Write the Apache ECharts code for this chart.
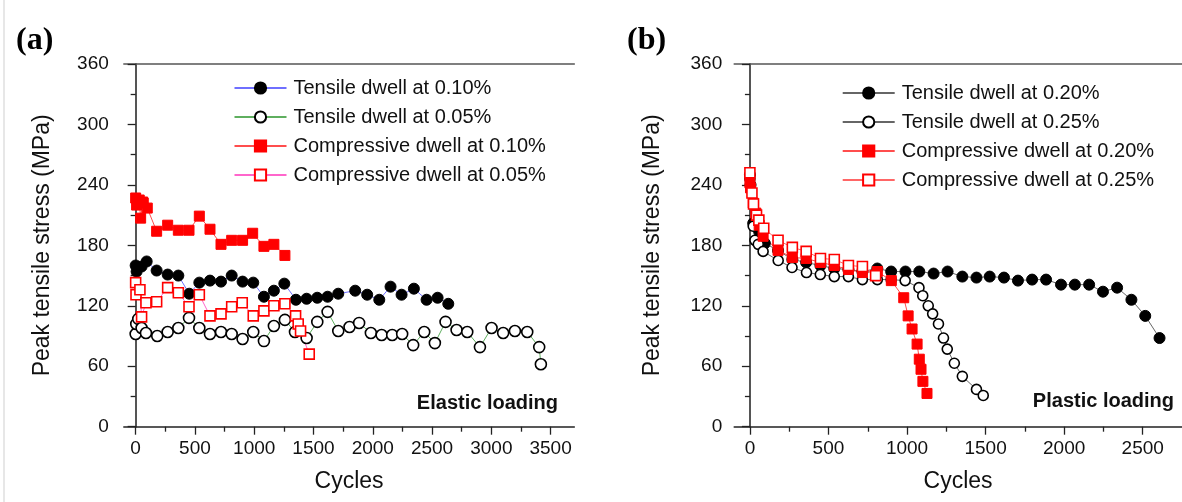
<!DOCTYPE html>
<html><head><meta charset="utf-8">
<script src="https://cdn.jsdelivr.net/npm/echarts@6/dist/echarts.min.js"></script>
<style>html,body{margin:0;padding:0;background:#fff;} #c{width:1182px;height:502px;}</style>
</head><body><div id="c"></div>
<script>
// ---------- Tick labels ----------
const xMajorA = [0, 500, 1000, 1500, 2000, 2500, 3000, 3500];
const xMinorA = [250, 750, 1250, 1750, 2250, 2750, 3250];
const xMajorB = [0, 500, 1000, 1500, 2000, 2500];
const xMinorB = [250, 750, 1250, 1750, 2250];

// ---------- Panel (a): elastic loading ----------
const aT10_x = [0, 8, 50, 93, 177, 270, 360, 452, 537, 627, 720, 810, 902, 992, 1082, 1166, 1254, 1352, 1442, 1532, 1619, 1709, 1852, 1953, 2055, 2150, 2243, 2347, 2454, 2547, 2637];
const aT10_y = [160, 154, 159, 164, 155, 151, 150, 132, 143, 145, 144, 150, 144, 143, 129, 135, 142, 126, 127, 128, 129, 132, 135, 131, 126, 139, 131, 137, 126, 128, 122];

const aT05_x = [0, 5, 22, 50, 87, 182, 270, 360, 450, 537, 627, 720, 810, 902, 992, 1082, 1166, 1259, 1344, 1442, 1532, 1619, 1709, 1804, 1885, 1984, 2075, 2164, 2248, 2341, 2434, 2524, 2614, 2707, 2797, 2904, 3002, 3100, 3199, 3303, 3404, 3418];
const aT05_y = [92, 102, 107, 98, 93, 90, 94, 98, 108, 98, 92, 94, 92, 87, 94, 85, 100, 106, 94, 88, 104, 114, 95, 99, 103, 93, 91, 91, 92, 81, 94, 83, 104, 96, 94, 79, 98, 93, 95, 94, 79, 62];

const aC10_x = [0, 8, 30, 42, 59, 64, 98, 177, 270, 360, 450, 537, 627, 720, 810, 902, 987, 1082, 1166, 1259];
const aC10_y = [227, 220, 225, 207, 223, 222, 217, 194, 200, 195, 195, 209, 196, 181, 185, 185, 192, 179, 181, 170];

const aC05_x = [0, 3, 36, 50, 87, 177, 270, 360, 450, 537, 627, 720, 810, 899, 992, 1082, 1166, 1259, 1349, 1371, 1391, 1464];
const aC05_y = [143, 131, 136, 109, 123, 124, 138, 133, 119, 131, 110, 112, 119, 123, 110, 115, 120, 122, 110, 102, 95, 72];

// ---------- Panel (b): plastic loading ----------
const bT20_x = [0, 4, 21, 59, 95, 179, 270, 358, 449, 537, 627, 716, 811, 899, 990, 1078, 1169, 1258, 1352, 1442, 1526, 1617, 1706, 1796, 1885, 1980, 2068, 2159, 2247, 2337, 2428, 2516, 2607];
const bT20_y = [250, 240, 202, 194, 182, 175, 166, 163, 160, 157, 156, 154, 157, 154, 154, 154, 152, 154, 149, 148, 149, 148, 145, 146, 146, 141, 141, 141, 134, 138, 126, 110, 88];

const bT25_x = [0, 21, 32, 53, 84, 180, 268, 360, 448, 537, 627, 716, 811, 899, 988, 1076, 1100, 1135, 1163, 1200, 1232, 1256, 1301, 1352, 1442, 1485];
const bT25_y = [246, 199, 185, 181, 174, 165, 158, 153, 151, 149, 149, 146, 146, 146, 145, 138, 130, 120, 112, 102, 88, 77, 63, 50, 37, 31];

const bC20_x = [0, 4, 21, 38, 59, 84, 179, 270, 358, 449, 537, 627, 716, 811, 900, 979, 1007, 1032, 1064, 1078, 1089, 1101, 1127];
const bC20_y = [242, 237, 222, 212, 200, 189, 175, 168, 167, 163, 160, 156, 153, 154, 145, 128, 110, 97, 82, 67, 57, 45, 33];

const bC25_x = [0, 13, 23, 42, 57, 88, 179, 270, 358, 449, 537, 627, 716, 800];
const bC25_y = [252, 232, 221, 210, 205, 197, 185, 178, 174, 167, 166, 160, 159, 150];

const namesA = ['Tensile dwell at 0.10%', 'Tensile dwell at 0.05%', 'Compressive dwell at 0.10%', 'Compressive dwell at 0.05%'];
const namesB = ['Tensile dwell at 0.20%', 'Tensile dwell at 0.25%', 'Compressive dwell at 0.20%', 'Compressive dwell at 0.25%'];

const FONT = 'Arial, "Liberation Sans", sans-serif';
const AX = '#222';
const zip = (xs, ys) => xs.map((x, i) => [x, ys[i]]);
const plain = v => String(v);

function xAxes(grid, min, max, majors, minors) {
  return [
    { type: 'value', gridIndex: grid, min, max, position: 'bottom',
      axisLine: { lineStyle: { color: AX, width: 1.5 } },
      axisTick: { inside: false, length: 8, lineStyle: { color: AX, width: 1.3 }, customValues: majors },
      axisLabel: { customValues: majors, formatter: plain, margin: 13, fontSize: 19, color: '#111', fontFamily: FONT },
      splitLine: { show: false },
      name: 'Cycles', nameLocation: 'middle', nameGap: 43,
      nameTextStyle: { fontSize: 23, color: '#111', fontFamily: FONT } },
    { type: 'value', gridIndex: grid, min, max, position: 'bottom',
      axisLine: { show: false },
      axisTick: { inside: false, length: 5, lineStyle: { color: AX, width: 1.3 }, customValues: minors },
      axisLabel: { show: false }, splitLine: { show: false } },
    { type: 'value', gridIndex: grid, min, max, position: 'top',
      axisLine: { lineStyle: { color: '#555', width: 1.5 } },
      axisTick: { show: false }, axisLabel: { show: false }, splitLine: { show: false } }
  ];
}
function yAxes(grid, labelMargin, nameGap) {
  return [
    { type: 'value', gridIndex: grid, min: 0, max: 360, interval: 60, position: 'left',
      axisLine: { show: true, lineStyle: { color: AX, width: 1.5 } },
      axisTick: { show: true, inside: false, length: 8, lineStyle: { color: AX, width: 1.3 } },
      minorTick: { show: true, splitNumber: 2, length: 5, lineStyle: { color: AX, width: 1.3 } },
      axisLabel: { margin: labelMargin, formatter: plain, fontSize: 19, color: '#111', fontFamily: FONT },
      splitLine: { show: false },
      name: 'Peak tensile stress (MPa)', nameLocation: 'middle', nameGap: nameGap, nameRotate: 90,
      nameTextStyle: { fontSize: 23, color: '#111', fontFamily: FONT } },
    { type: 'value', gridIndex: grid, min: 0, max: 360, interval: 60, position: 'right',
      axisLine: { show: true, lineStyle: { color: '#555', width: 1.5 } },
      axisTick: { show: false }, axisLabel: { show: false }, splitLine: { show: false } }
  ];
}

function ser(name, xs, ys, xi, yi, symbol, filled, symColor, lineColor, size) {
  return {
    type: 'line', name, xAxisIndex: xi, yAxisIndex: yi, data: zip(xs, ys),
    symbol, symbolSize: size, showAllSymbol: true,
    itemStyle: { color: filled ? symColor : '#fff', borderColor: symColor, borderWidth: filled ? 1 : 1.6 },
    lineStyle: { color: lineColor, width: 1 },
    emphasis: { disabled: true }, animation: false
  };
}

const legendCommon = {
  orient: 'vertical', itemWidth: 52, itemHeight: 14, itemGap: 9, padding: 0,
  selectedMode: false,
  textStyle: { fontSize: 20, lineHeight: 20, color: '#111', fontFamily: FONT, padding: [0, 0, 0, 2] }
};

const option = {
  backgroundColor: '#fff',
  animation: false,
  grid: [
    { left: 123.8, top: 64, width: 450.5, height: 362.7 },
    { left: 734.2, top: 64, width: 451.2, height: 362.7 }
  ],
  xAxis: [].concat(xAxes(0, -100, 3700, xMajorA, xMinorA), xAxes(1, -100, 2750, xMajorB, xMinorB)),
  yAxis: [].concat(yAxes(0, 15, 70), yAxes(1, 12, 70)),
  legend: [
    Object.assign({}, legendCommon, { data: namesA, left: 233.5, top: 78 }),
    Object.assign({}, legendCommon, { data: namesB, left: 841.7, top: 83 })
  ],
  series: [
    ser(namesA[0], aT10_x, aT10_y, 0, 0, 'circle', true, '#000', '#6f6fff', 11),
    ser(namesA[1], aT05_x, aT05_y, 0, 0, 'circle', false, '#000', '#5faf5f', 11),
    ser(namesA[2], aC10_x, aC10_y, 0, 0, 'rect', true, '#ff0000', '#ff4d4d', 10),
    ser(namesA[3], aC05_x, aC05_y, 0, 0, 'rect', false, '#ff0000', '#ff66cc', 10),
    ser(namesB[0], bT20_x, bT20_y, 3, 2, 'circle', true, '#000', '#666', 11),
    ser(namesB[1], bT25_x, bT25_y, 3, 2, 'circle', false, '#000', '#666', 10),
    ser(namesB[2], bC20_x, bC20_y, 3, 2, 'rect', true, '#ff0000', '#ff4d4d', 10),
    ser(namesB[3], bC25_x, bC25_y, 3, 2, 'rect', false, '#ff0000', '#ff6666', 10)
  ],
  graphic: [
    { type: 'line', shape: { x1: 4, y1: 0, x2: 4, y2: 502 }, style: { stroke: '#cfcfcf', lineWidth: 1 } },
    { type: 'text', left: 16, top: 25, style: { text: '(a)', font: 'bold 32px "Liberation Serif", "Times New Roman", serif', fill: '#000' } },
    { type: 'text', left: 627, top: 25, style: { text: '(b)', font: 'bold 32px "Liberation Serif", "Times New Roman", serif', fill: '#000' } },
    { type: 'text', right: 1182 - 558, top: 393, style: { text: 'Elastic loading', font: 'bold 20px Arial, "Liberation Sans", sans-serif', fill: '#111' } },
    { type: 'text', right: 8, top: 391, style: { text: 'Plastic loading', font: 'bold 20px Arial, "Liberation Sans", sans-serif', fill: '#111' } }
  ]
};

const chart = echarts.init(document.getElementById('c'), null, { renderer: 'canvas' });
chart.setOption(option);
</script>
</body></html>
